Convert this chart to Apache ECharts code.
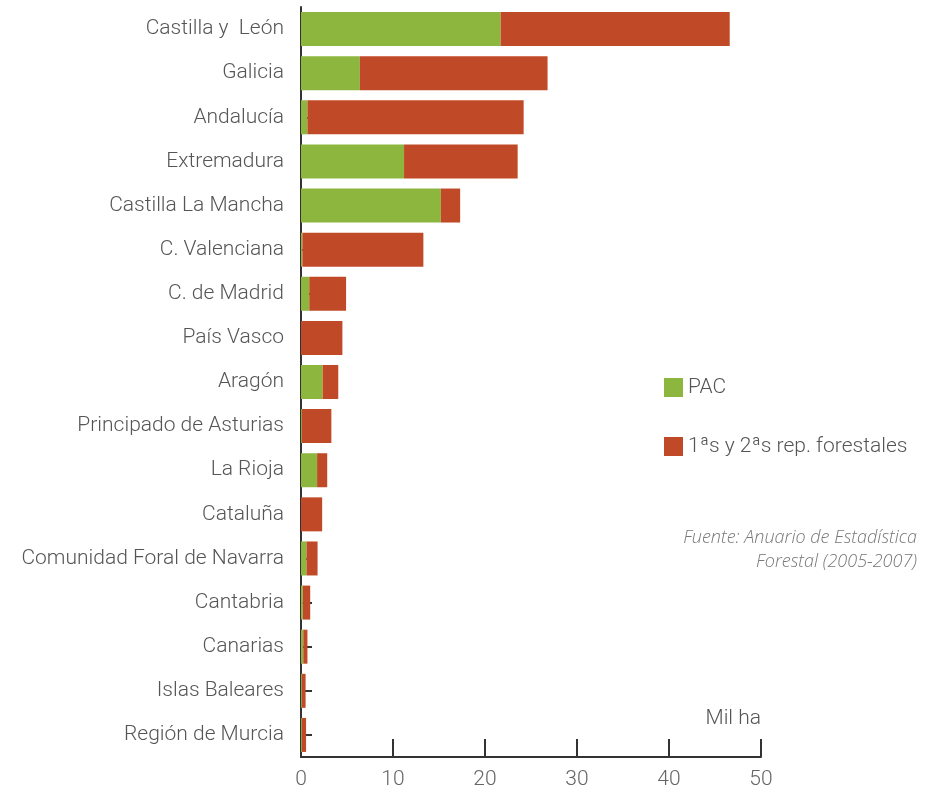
<!DOCTYPE html>
<html>
<head>
<meta charset="utf-8">
<script src="https://cdn.jsdelivr.net/npm/echarts@6/dist/echarts.min.js"></script>
<style>
    html, body { margin: 0; padding: 0; background: #fff; }
    #chart { width: 929px; height: 790px; }
</style>
</head>
<body>
<div id="chart"></div>
<script>
// comunidades, de arriba a abajo
var regiones = ['Castilla y  León', 'Galicia', 'Andalucía', 'Extremadura', 'Castilla La Mancha',
    'C. Valenciana', 'C. de Madrid', 'País Vasco', 'Aragón', 'Principado de Asturias',
    'La Rioja', 'Cataluña', 'Comunidad Foral de Navarra', 'Cantabria', 'Canarias',
    'Islas Baleares', 'Región de Murcia'];
// miles de ha
var pac = [21.7, 6.4, 0.7, 11.2, 15.2, 0.15, 0.9, 0, 2.35, 0.1, 1.75, 0, 0.6, 0.2, 0.25, 0.1, 0.1];
var repForestales = [24.9, 20.4, 23.5, 12.35, 2.1, 13.15, 4.0, 4.5, 1.7, 3.2, 1.1, 2.3, 1.2, 0.8, 0.45, 0.4, 0.45];
var ejeX = [0, 10, 20, 30, 40, 50];

var txt = '#555';
var fuente = 'Roboto, "Liberation Sans", sans-serif';

var chart = echarts.init(document.getElementById('chart'));
var option = {
    animation: false,
    textStyle: { fontFamily: fuente },
    grid: {
        left: 301,
        right: 168,
        top: 7,
        bottom: 32,
        containLabel: false
    },
    legend: {
        orient: 'vertical',
        left: 664,
        top: 377,
        padding: 0,
        itemWidth: 19,
        itemHeight: 19,
        itemGap: 38,
        icon: 'rect',
        textStyle: { color: txt, fontSize: 21, fontWeight: 300, fontFamily: fuente },
        data: ['PAC', '1ªs y 2ªs rep. forestales']
    },
    xAxis: {
        type: 'value',
        min: ejeX[0],
        max: ejeX[ejeX.length - 1],
        interval: 10,
        axisLine: { show: true, lineStyle: { color: '#333', width: 2 } },
        axisTick: { show: true, inside: true, length: 18, lineStyle: { color: '#333', width: 2 } },
        axisLabel: { color: '#666', fontSize: 21, fontWeight: 300, margin: 12 },
        splitLine: { show: false }
    },
    yAxis: {
        type: 'category',
        inverse: true,
        data: regiones,
        axisLine: { show: true, lineStyle: { color: '#333', width: 2 } },
        axisTick: { show: true, inside: true, length: 11, alignWithLabel: true, lineStyle: { color: '#333', width: 2 } },
        axisLabel: { color: txt, fontSize: 21, fontWeight: 300, margin: 17, padding: [4, 0, 0, 0] }
    },
    series: [{
        name: 'PAC',
        type: 'bar',
        stack: 'total',
        data: pac,
        barWidth: 34,
        itemStyle: { color: '#8DB63F' }
    }, {
        name: '1ªs y 2ªs rep. forestales',
        type: 'bar',
        stack: 'total',
        data: repForestales,
        barWidth: 34,
        itemStyle: { color: '#C04A27' }
    }],
    graphic: [{
        type: 'text',
        right: 168,
        top: 708,
        style: { text: 'Mil ha', fill: txt, font: '300 21px ' + fuente, textAlign: 'right' }
    }, {
        type: 'text',
        right: 12,
        top: 526,
        style: {
            text: 'Fuente: Anuario de Estadística\nForestal (2005-2007)',
            fill: '#777',
            font: 'italic 300 18px "Open Sans", sans-serif',
            textAlign: 'right',
            lineHeight: 24
        }
    }]
};
chart.setOption(option);
</script>
</body>
</html>
